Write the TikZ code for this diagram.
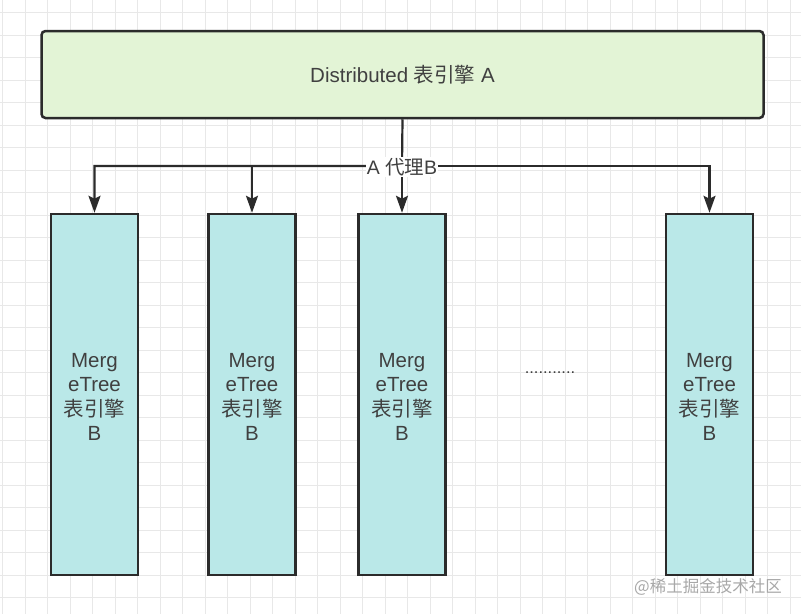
\documentclass[tikz,border=0pt]{standalone}
\usepackage{fontspec}
\setmainfont{Liberation Sans}
\newfontfamily\cjk{Noto Sans CJK SC}
\usetikzlibrary{arrows.meta}
\definecolor{gridc}{HTML}{E8E8E8}
\definecolor{linec}{HTML}{2B2B2B}
\definecolor{topfill}{HTML}{E3F4D6}
\definecolor{boxfill}{HTML}{BAE8E8}
\definecolor{txt}{HTML}{404040}
\definecolor{wm}{HTML}{A8A8A8}
\begin{document}
\begin{tikzpicture}[x=1pt,y=-1pt,
  topbox/.style={draw=linec,line width=2.5pt,fill=topfill,rounded corners=4pt,
    minimum width=722pt,minimum height=87pt,inner sep=0pt,text=txt,
    font=\fontsize{20.5}{24}\selectfont},
  engbox/.style={draw=linec,line width=2.5pt,fill=boxfill,
    minimum width=87pt,minimum height=361pt,inner sep=0pt},
  engtxt/.style={text=txt,align=center,inner sep=0pt,
    font=\fontsize{20.5}{24.5}\selectfont},
  conn/.style={draw=linec,line width=2.2pt,-{Stealth[length=17pt,width=12pt,inset=3pt]}},
  lbl/.style={fill=white,text=txt,inner sep=1pt,font=\fontsize{19.5}{22}\selectfont}]
\useasboundingbox (0,0) rectangle (801,614);
\fill[white] (0,0) rectangle (801,614);
% grid
\foreach \i in {0,...,35} {\draw[gridc,line width=0.9pt] (2.5+22.5*\i,0) -- (2.5+22.5*\i,614);}
\foreach \j in {0,...,27} {\draw[gridc,line width=0.9pt] (0,12.5+22.5*\j) -- (801,12.5+22.5*\j);}
% nodes
\node[topbox] (A) at (402.5,74.5) {Distributed {\cjk 表引擎} A};
\node[engbox] (b1) at (94.5,394.5) {};
\node[engbox] (b2) at (252,394.5) {};
\node[engbox] (b3) at (402,394.5) {};
\node[engbox] (b4) at (709.5,394.5) {};
\foreach \b in {b1,b2,b3,b4}
  \node[engtxt] (\b t) at ([yshift=-2.5pt]\b.center) {Merg\\eTree\\{\cjk 表引擎}\\B};
\node[text=txt,font=\fontsize{16.5}{18}\selectfont] (dots) at (550,373) {...........};
% connectors
\coordinate (j) at (402,166);
\draw[conn] (A.south) -- (j) -| (b1.north);
\draw[conn] (j) -| (b2.north);
\draw[conn] (j) -- (b3.north);
\draw[conn] (j) -| (b4.north);
\node[lbl] (lab) at (402,167) {A {\cjk 代理}B};
% watermark
\node[text=wm,font=\cjk\fontsize{16.5}{18}\selectfont] (wmk) at (708,587) {@稀土掘金技术社区};
\end{tikzpicture}
\end{document}
